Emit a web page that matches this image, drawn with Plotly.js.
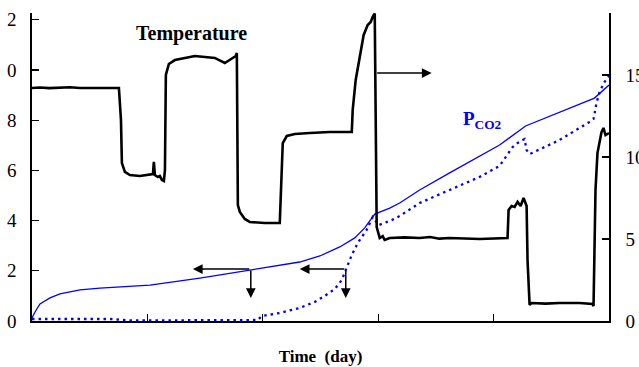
<!DOCTYPE html>
<html><head><meta charset="utf-8">
<script src="https://cdn.plot.ly/plotly-3.0.1.min.js"></script>
<style>html,body{margin:0;padding:0;background:#fff;overflow:hidden}
#clip{position:absolute;left:7px;top:0;width:632px;height:367px;overflow:hidden}
#chart{position:absolute;left:-7px;top:0;width:639px;height:367px}
</style></head><body>
<div id="clip"><div id="chart"></div></div>
<script>
// Time (day)
const tempX = [0,0.69,1.5,2.42,3.3,4.16,5.0,5.89,6.7,7.53,7.71,7.79,8.05,8.48,9.35,10.22,10.48,10.56,10.65,10.91,11.08,11.26,11.43,11.52,11.6,11.86,12.38,13.25,14.11,14.98,15.84,16.71,17.14,17.66,17.75,17.84,18.01,18.44,18.87,20.17,21.47,21.56,21.73,22.08,22.77,24.07,25.8,27.71,27.79,28.05,28.4,28.74,29.09,29.35,29.52,29.7,29.87,30.13,30.39,30.56,31.0,32.3,33.59,34.5,35.3,36.19,38.79,41.21,41.3,41.56,41.82,42.08,42.34,42.6,42.86,42.94,43.12,43.29,44.5,45.71,47.45,48.57,48.66,48.83,49.0,49.18,49.35,49.52,49.7,50];
// Temperature (right axis)
const tempY = [14.21,14.24,14.2,14.22,14.25,14.21,14.2,14.23,14.2,14.21,12.26,9.63,9.09,8.9,8.84,8.9,8.96,9.7,8.9,8.78,8.84,8.6,8.54,9.21,15.0,15.67,15.91,16.04,16.16,16.1,16.04,15.73,15.91,16.16,16.34,7.07,6.65,6.22,6.04,5.98,5.98,7.38,10.85,11.28,11.4,11.46,11.52,11.52,12.87,14.7,16.22,17.44,18.05,18.23,18.54,18.75,5.73,5.06,5.18,4.94,5.06,5.1,5.06,5.12,5.02,5.06,5.0,5.06,6.77,7.01,6.95,7.26,7.01,7.5,7.01,3.72,0.98,1.1,1.06,1.1,1.1,1.04,0.91,7.99,10.24,10.85,11.52,11.77,11.34,11.46];
// PCO2 solid (left axis)
const pSolidX = [0,0.26,0.69,1.56,2.42,4.16,5.89,8.48,10.22,14.55,18.87,23.2,24.94,26.67,27.97,28.83,29.7,31.0,31.86,33.59,36.19,38.79,40.52,42.77,45.71,48.74,50];
const pSolidY = [0.12,0.36,0.68,0.92,1.08,1.24,1.31,1.39,1.43,1.71,2.03,2.35,2.59,2.95,3.31,3.71,4.26,4.5,4.7,5.22,5.9,6.57,7.01,7.77,8.33,8.88,9.4];
// PCO2 dotted (left axis)
const pDotX = [0,6.75,8.48,11.52,19.57,19.91,21.47,23.2,24.5,25.37,26.23,26.84,27.27,27.71,28.23,29.0,29.52,30.04,31.17,31.86,33.59,36.19,38.79,40.52,41.21,41.65,42.08,42.68,42.86,43.12,44.42,45.71,48.31,48.66,48.92,49.18,49.61,50];
const pDotY = [0.08,0.08,0.02,0.02,0.04,0.2,0.32,0.52,0.76,1.0,1.27,1.63,2.11,2.63,3.11,3.63,4.14,3.82,4.02,4.18,4.7,5.22,5.74,6.18,6.61,6.93,7.09,7.25,6.81,6.65,6.93,7.21,7.93,8.05,8.69,9.12,9.52,9.76];
// Tick labels
const leftTicks = [0,2,4,6,8,10,12];
const leftTickText = ["0","2","4","6","8","10","12"];
const rightTicks = [0,5,10,15];
const rightTickText = ["0","5","10","15"];

const serif = "Liberation Serif, Times New Roman, serif";

const traces = [
  {x:pSolidX, y:pSolidY, mode:'lines', line:{color:'#0000ff', width:1.3}, yaxis:'y', hoverinfo:'skip'},
  {x:pDotX, y:pDotY, mode:'lines', line:{color:'#0000ff', width:2.3, dash:'2.5px,4px'}, yaxis:'y', hoverinfo:'skip'},
  {x:tempX, y:tempY, mode:'lines', line:{color:'#000000', width:2.6}, yaxis:'y2', hoverinfo:'skip'}
];

function arrow(x, y, ax, ay, yref){
  return {x:x, y:y, ax:ax, ay:ay, xref:'x', yref:yref, axref:'x', ayref:yref,
    text:'', showarrow:true, arrowhead:2, arrowsize:1.3, arrowwidth:1.5, arrowcolor:'#000'};
}

const layout = {
  width:639, height:367,
  margin:{l:32, r:30, t:13, b:46, pad:0},
  paper_bgcolor:'#fff', plot_bgcolor:'#fff',
  showlegend:false,
  font:{family:serif, size:19, color:'#000'},
  xaxis:{range:[0,50], tickmode:'linear', tick0:0, dtick:10, ticks:'inside', ticklen:7, tickwidth:1.2, tickcolor:'#000',
    showticklabels:false, showline:true, linecolor:'#000', linewidth:1.6, showgrid:false, zeroline:false,
    title:{text:'<b>Time  (day)</b>', font:{family:serif, size:17, color:'#000'}, standoff:28}},
  yaxis:{range:[0,12.27], tickmode:'array', tickvals:leftTicks, ticktext:leftTickText, ticks:'inside', ticklen:7,
    tickwidth:1.2, tickcolor:'#000', showline:true, linecolor:'#000', linewidth:1.6, showgrid:false, zeroline:false,
    ticklabelstandoff:10, tickfont:{family:serif, size:19, color:'#000'}},
  yaxis2:{range:[0,18.78], overlaying:'y', side:'right', tickmode:'array', tickvals:rightTicks, ticktext:rightTickText,
    ticks:'inside', ticklen:7, tickwidth:1.2, tickcolor:'#000', showline:true, linecolor:'#000', linewidth:1.6,
    showgrid:false, zeroline:false, ticklabelstandoff:11, tickfont:{family:serif, size:19, color:'#000'}},
  annotations:[
    {x:13.85, y:17.56, xref:'x', yref:'y2', text:'<b>Temperature</b>', showarrow:false,
      font:{family:serif, size:20, color:'#000'}},
    {x:39.0, y:8.0, xref:'x', yref:'y', text:'<b>P<sub>CO2</sub></b>', showarrow:false,
      font:{family:serif, size:19, color:'#0000ff'}},
    arrow(34.63, 15.12, 29.78, 15.12, 'y2'),
    arrow(13.94, 2.07, 18.96, 2.07, 'y'),
    arrow(18.96, 0.92, 18.96, 2.07, 'y'),
    arrow(23.2, 2.07, 27.19, 2.07, 'y'),
    arrow(27.19, 0.92, 27.19, 2.07, 'y')
  ]
};

Plotly.newPlot('chart', traces, layout, {staticPlot:true, displayModeBar:false});
</script></body></html>
